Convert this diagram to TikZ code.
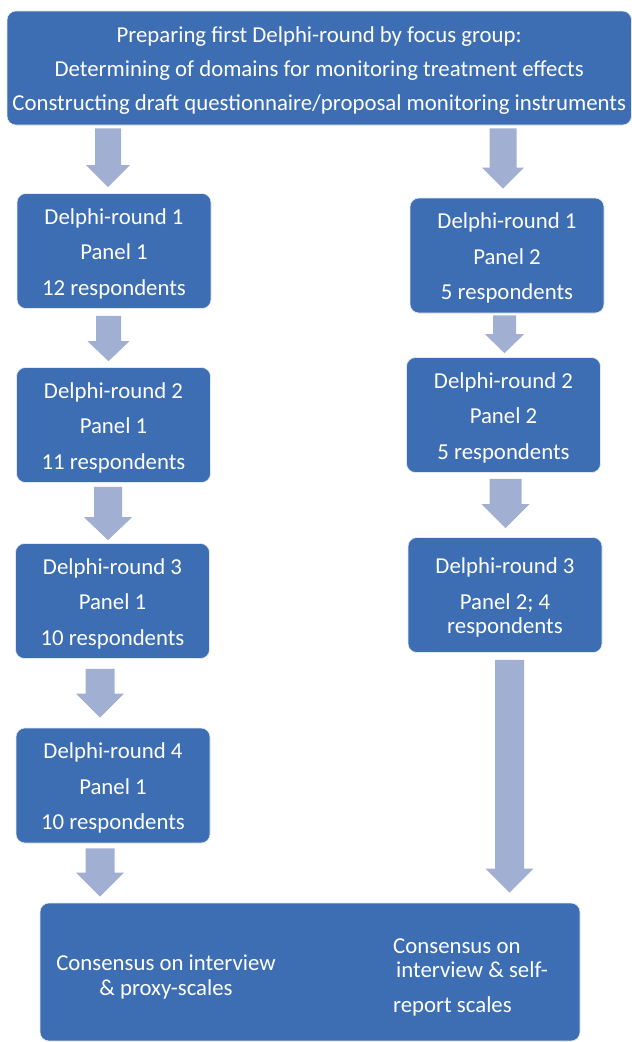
\documentclass[tikz,border=0pt]{standalone}
\usepackage{fontspec}
\setmainfont{Carlito}
\usetikzlibrary{calc}
\definecolor{boxblue}{RGB}{61,110,180}
\definecolor{arrowblue}{RGB}{161,176,210}
\newcommand\strutup{\rule{0pt}{21.5pt}}
\tikzset{
  box/.style={fill=boxblue, draw=white!85!boxblue, line width=0.6pt, rounded corners=9pt,
    text=white, align=center, inner sep=0pt, minimum width=194pt, minimum height=115pt,
    font=\fontsize{22.8}{35.5}\selectfont},
  lbl/.style={text=white, inner sep=0pt, font=\fontsize{22.8}{24.5}\selectfont},
  arrowfill/.style={fill=arrowblue}
}
% #1 from node, #2 to node, #3 x centre, #4 gap top, #5 gap bottom, #6 shaft half, #7 head half, #8 head length
\newcommand\barrow[8]{%
  \fill[arrowfill] let \p1=(#1.south), \p2=(#2.north) in
   (#3pt-#6pt,\y1-#4pt) -- (#3pt+#6pt,\y1-#4pt) -- (#3pt+#6pt,\y2+#5pt+#8pt)
   -- (#3pt+#7pt,\y2+#5pt+#8pt) -- (#3pt,\y2+#5pt) -- (#3pt-#7pt,\y2+#5pt+#8pt)
   -- (#3pt-#6pt,\y2+#5pt+#8pt) -- cycle;}
\begin{document}
\begin{tikzpicture}[x=1pt,y=-1pt]
\useasboundingbox (0,0) rectangle (632,1042);
\node[box, minimum width=624.5pt, minimum height=114pt, font=\fontsize{22.8}{34}\selectfont] (top) at (319.25,68)
  {\strutup Preparing first Delphi-round by focus group:\\Determining of domains for monitoring treatment effects\\Constructing draft questionnaire/proposal monitoring instruments};
\node[box] (l1) at (114,251) {\strutup Delphi-round 1\\Panel 1\\12 respondents};
\node[box] (r1) at (507,255.5) {\strutup Delphi-round 1\\Panel 2\\5 respondents};
\node[box] (l2) at (113.5,425) {\strutup Delphi-round 2\\Panel 1\\11 respondents};
\node[box] (r2) at (503.5,415) {\strutup Delphi-round 2\\Panel 2\\5 respondents};
\node[box] (l3) at (112.5,601) {\strutup Delphi-round 3\\Panel 1\\10 respondents};
\node[box, font=\fontsize{22.8}{24}\selectfont] (r3) at (505,595) {\strutup Delphi-round 3\\[12pt]Panel 2; 4\\respondents};
\node[box] (l4) at (113,785.5) {\strutup Delphi-round 4\\Panel 1\\10 respondents};
\node[box, minimum width=540pt, minimum height=138pt] (bot) at (310,972) {};
\node[lbl, align=center] (bl) at (166,977) {Consensus on interview\\\& proxy-scales};
\node[lbl, align=left, anchor=west] (br) at (393,977) {Consensus on\\\hspace*{3pt}interview \& self-\\[10pt]report scales};
\barrow{top}{l1}{108}{3}{6}{13}{22}{22}
\barrow{top}{r1}{503}{3}{9}{13.5}{21}{21}
\barrow{l1}{l2}{108.5}{7}{6}{12.5}{21}{20}
\barrow{r1}{r2}{504.5}{2}{4}{11.5}{19.5}{19}
\barrow{l2}{l3}{108}{4}{3}{14}{24}{23}
\barrow{r2}{r3}{505.5}{6}{9}{16}{24}{24}
\barrow{l3}{l4}{100}{10}{10}{14.5}{24}{24}
\barrow{l4}{bot}{100}{5}{6}{14.5}{24}{24}
\barrow{r3}{bot}{509.5}{7}{10}{14.5}{24}{24}
\end{tikzpicture}
\end{document}
